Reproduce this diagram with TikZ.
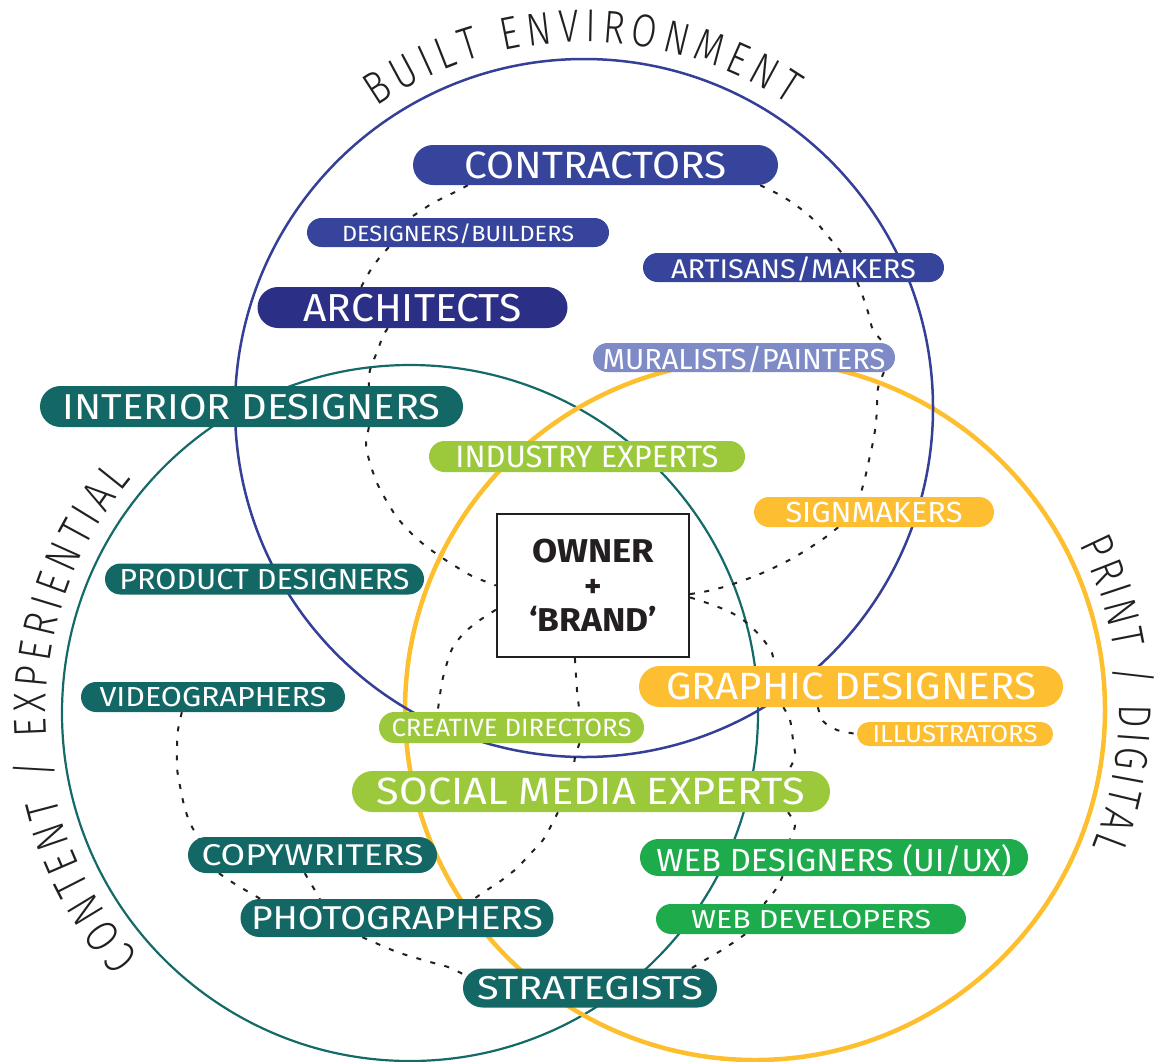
\documentclass[tikz,border=0pt]{standalone}
\usepackage{graphicx}
\usepackage{fontspec}
\setmainfont{Fira Sans}
\IfFontExistsTF{Fira Sans Light}
  {\newfontfamily\arcfont{Fira Sans Light}[FakeStretch=0.8]}
  {\newfontfamily\arcfont{Fira Sans}[FakeStretch=0.8]}
\IfFontExistsTF{Fira Sans Book}
  {\newfontfamily\pillfont{Fira Sans Book}}
  {\newfontfamily\pillfont{Fira Sans}}
\usetikzlibrary{decorations.text}

\definecolor{ink}{HTML}{231F20}
\definecolor{blueA}{HTML}{37449B}
\definecolor{blueB}{HTML}{2B2F86}
\definecolor{blueC}{HTML}{7F8BC6}
\definecolor{tealL}{HTML}{136866}
\definecolor{lgreen}{HTML}{9BC93B}
\definecolor{yell}{HTML}{FDBF31}
\definecolor{webgreen}{HTML}{1EAB4B}
\definecolor{cblue}{HTML}{343F98}
\definecolor{cteal}{HTML}{146A67}
\definecolor{cyell}{HTML}{FDBF2E}

\pgfdeclarelayer{bg}
\pgfsetlayers{bg,main}

\newcommand{\fw}[2]{\resizebox{#1pt}{\height}{#2}}

\begin{document}
\begin{tikzpicture}[x=1pt,y=1pt,
  pill/.style n args={4}{rectangle, minimum width=#1pt, minimum height=#2pt,
    rounded corners={#2*0.5pt}, fill=#3, inner sep=0pt, text=white,
    font=\pillfont\fontsize{#4}{#4}\selectfont, text depth=0pt},
  conn/.style={draw=ink, line width=2pt, dash pattern=on 5pt off 9.5pt},
  arctext/.style={decorate, decoration={text along path, text={#1},
    text align=fit to path, text color=ink}}]

\useasboundingbox (0,0) rectangle (1155,-1061);

% ---------- labels ----------
\node[pill={365}{40}{blueA}{38}] (contractors) at (595.5,-165) {\fw{262}{CONTRACTORS}};
\node[pill={302}{29}{blueA}{22}] (designers) at (458,-232.5) {\fw{232}{DESIGNERS/BUILDERS}};
\node[pill={301}{29}{blueA}{27}] (artisans) at (793.5,-267.5) {\fw{245}{ARTISANS/MAKERS}};
\node[pill={310}{41}{blueB}{39}] (architects) at (412.5,-307.5) {\fw{218}{ARCHITECTS}};
\node[pill={302}{29}{blueC}{29}] (muralists) at (744,-357.5) {\fw{283}{MURALISTS/PAINTERS}};
\node[pill={423}{41}{tealL}{36}] (interior) at (251.5,-406.5) {\fw{378}{INTERIOR DESIGNERS}};
\node[pill={316}{31}{lgreen}{31}] (industry) at (587,-456.5) {\fw{263}{INDUSTRY EXPERTS}};
\node[pill={240}{30}{yell}{29}] (signmakers) at (874,-512) {\fw{177}{SIGNMAKERS}};
\node[pill={319}{31}{tealL}{29}] (product) at (264.5,-579) {\fw{290}{PRODUCT DESIGNERS}};
\node[pill={264}{30}{tealL}{27.5}] (video) at (213,-697) {\fw{227}{VIDEOGRAPHERS}};
\node[pill={265}{31}{lgreen}{25}] (creative) at (511.5,-727.5) {\fw{240}{CREATIVE DIRECTORS}};
\node[pill={424}{41}{yell}{38}] (graphic) at (851,-686.5) {\fw{370}{GRAPHIC DESIGNERS}};
\node[pill={196}{24}{yell}{24.5}] (illustrators) at (955,-734) {\fw{165}{ILLUSTRATORS}};
\node[pill={478}{41}{lgreen}{38}] (social) at (591,-791.5) {\fw{428}{SOCIAL MEDIA EXPERTS}};
\node[pill={249}{36}{tealL}{30}] (copy) at (312.5,-855) {\fw{222}{COPYWRITERS}};
\node[pill={388}{37}{webgreen}{32}] (webdes) at (834,-857.5) {\fw{355}{WEB DESIGNERS (UI/UX)}};
\node[pill={313}{38}{tealL}{33}] (photo) at (397,-918) {\fw{292}{PHOTOGRAPHERS}};
\node[pill={310}{30}{webgreen}{26}] (webdev) at (811,-919) {\fw{240}{WEB DEVELOPERS}};
\node[pill={254}{39}{tealL}{33}] (strat) at (590,-988) {\fw{226}{STRATEGISTS}};

\node[draw=ink, line width=2.2pt, fill=white, minimum width=192pt, minimum height=143pt,
  inner sep=0pt, align=center, text=ink, font=\bfseries\fontsize{33}{34.5}\selectfont]
  (owner) at (593,-585.5) {\fw{122}{OWNER}\\+\\\fw{128}{‘BRAND’}};

% ---------- curved titles ----------
\path[arctext={|\arcfont\fontsize{46}{46}\selectfont|BUILT ENVIRONMENT}]
  ([shift={(124.5:366pt)}]584,-408) arc[start angle=124.5, end angle=56, radius=366pt];
\path[arctext={|\arcfont\fontsize{46}{46}\selectfont|CONTENT / EXPERIENTIAL}]
  ([shift={(222:364pt)}]410,-713) arc[start angle=222, end angle=140, radius=364pt];
\path[arctext={|\arcfont\fontsize{46}{46}\selectfont|PRINT / DIGITAL}]
  ([shift={(27:364pt)}]755,-710) arc[start angle=27, end angle=-22, radius=364pt];

% ---------- background: circles and connectors ----------
\begin{pgfonlayer}{bg}
\draw[draw=cteal, line width=2.2pt] (410,-713) circle[radius=348pt];
\draw[draw=cyell, line width=4.5pt] (755,-710) circle[radius=350pt];
\draw[draw=cblue, line width=2.5pt] (584,-408) circle[radius=349pt];

\draw[conn] plot[smooth] coordinates {(contractors.189) (455,-192) (433,-203) (416,-214) (designers.163)};
\draw[conn] plot[smooth] coordinates {(designers.192) (380,-257) (370,-271) (architects.158)};
\draw[conn] plot[smooth] coordinates {(architects.220) (383,-336) (377,-352) (370,-370) (interior.10)};
\draw[conn] plot[smooth] coordinates {(interior.350) (366,-445) (370,-463) (377,-483) (386,-500) (396,-516) (408,-530) (422,-543) (438,-555) (455,-566) (472,-576) (owner.west)};
\draw[conn] plot[smooth] coordinates {(contractors.353) (780,-195) (797,-206) (815,-221) (832,-241) (artisans.17)};
\draw[conn] plot[smooth] coordinates {(artisans.347) (862,-294) (868,-312) (873,-330) (muralists.6)};
\draw[conn] plot[smooth] coordinates {(muralists.354) (878,-388) (877,-405) (876,-423) (873,-442) (869,-460) (865,-478) (signmakers.133)};
\draw[conn] plot[smooth] coordinates {(signmakers.203) (823,-539) (793,-558) (760,-574) (727,-586) (703,-592) (owner.355)};
\draw[conn] plot[smooth] coordinates {(owner.353) (713,-605) (732,-613) (747,-623) (762,-638) (772,-653) (graphic.165)};
\draw[conn] plot[smooth] coordinates {(graphic.197) (790,-720) (793,-740) (795,-757) (social.6)};
\draw[conn] plot[smooth] coordinates {(social.354) (795,-825) (webdes.157)};
\draw[conn] plot[smooth] coordinates {(webdes.200) (776,-889) (webdev.162)};
\draw[conn] plot[smooth] coordinates {(webdev.193) (737,-940) (722,-950) (705,-960) (strat.11)};
\draw[conn] plot[smooth] coordinates {(graphic.212) (823,-721) (837,-730) (illustrators.west)};
\draw[conn] plot[smooth] coordinates {(owner.194) (480,-620) (465,-632) (453,-647) (447,-663) (442,-682) (creative.168)};
\draw[conn] plot[smooth] coordinates {(owner.256) (577,-690) (creative.13)};
\draw[conn] plot[smooth] coordinates {(creative.347) (575,-757) (social.130)};
\draw[conn] plot[smooth] coordinates {(social.212) (553,-822) (543,-840) (530,-854) (517,-868) (502,-880) (487,-890) (photo.14)};
\draw[conn] plot[smooth] coordinates {(video.206) (178,-730) (177,-748) (177,-768) (180,-786) (184,-805) (190,-823) ([shift={(-110,10)}]copy.center)};
\draw[conn] plot[smooth] coordinates {(copy.191) (235,-884) (photo.172)};
\draw[conn] (copy.247) -- (photo.166);
\draw[conn] plot[smooth] coordinates {(photo.209) (378,-944) (397,-952) (413,-957) (430,-962) (448,-967) ([shift={(-115,8)}]strat.center)};
\end{pgfonlayer}
\end{tikzpicture}
\end{document}
